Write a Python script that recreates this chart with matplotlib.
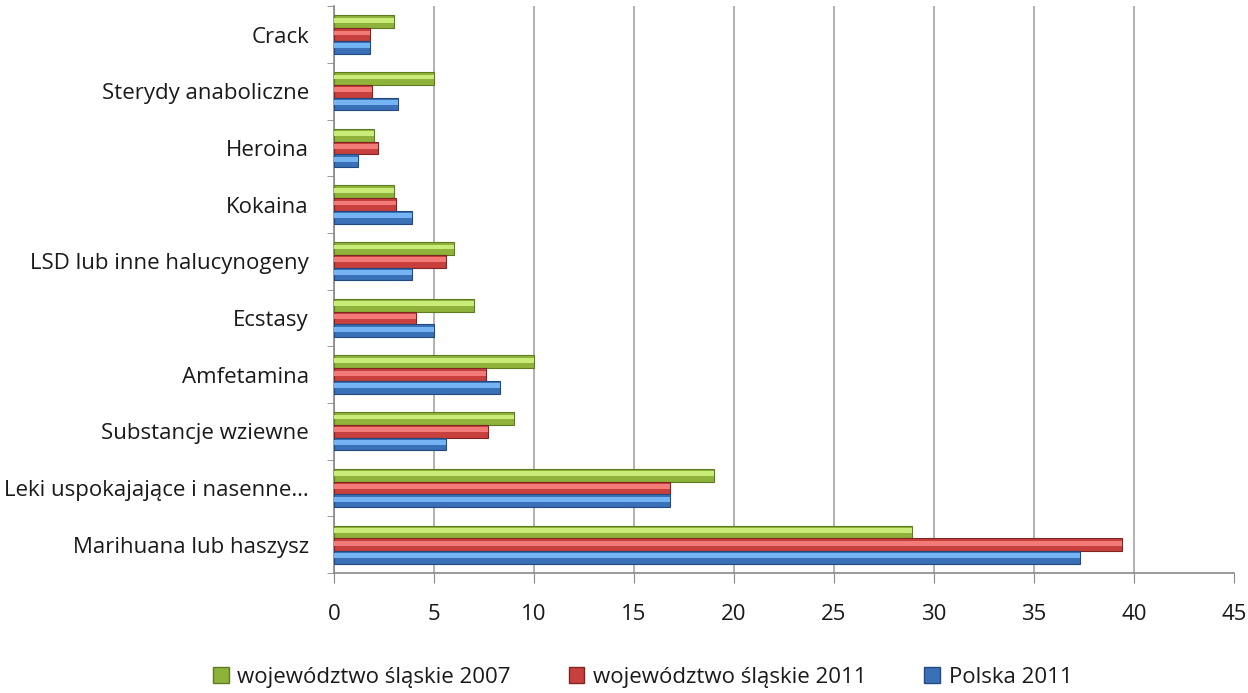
import matplotlib
matplotlib.use("Agg")
import matplotlib.pyplot as plt
import numpy as np
from matplotlib.patches import Patch

categories = ["Marihuana lub haszysz", "Leki uspokajające i nasenne…", "Substancje wziewne",
              "Amfetamina", "Ecstasy", "LSD lub inne halucynogeny", "Kokaina", "Heroina",
              "Sterydy anaboliczne", "Crack"]
slaskie_2007 = [28.9, 19.0, 9.0, 10.0, 7.0, 6.0, 3.0, 2.0, 5.0, 3.0]
slaskie_2011 = [39.4, 16.8, 7.7, 7.6, 4.1, 5.6, 3.1, 2.2, 1.9, 1.8]
polska_2011 = [37.3, 16.8, 5.6, 8.3, 5.0, 3.9, 3.9, 1.2, 3.2, 1.8]

series = [
    ("województwo śląskie 2007", slaskie_2007, "#8fb33a", "#c9ec78", "#5e7a22"),
    ("województwo śląskie 2011", slaskie_2011, "#c8403d", "#f27a78", "#7f2523"),
    ("Polska 2011", polska_2011, "#3a70b8", "#74b4f2", "#234a7f"),
]

plt.rcParams["font.family"] = ["Open Sans", "DejaVu Sans"]
fs = 16

fig = plt.figure(figsize=(12.48, 6.93), dpi=100)
ax = fig.add_axes([0.2676, 0.1732, 0.7212, 0.8178])

y = np.arange(len(categories))
h = 0.225
offsets = [h, 0.0, -h]
for (name, vals, base, light, dark), off in zip(series, offsets):
    ax.barh(y + off, vals, height=h, color=base, edgecolor=dark, linewidth=0.8, zorder=3)
    # highlight strip for the bevelled look
    ax.barh(y + off + h * 0.12, vals, height=h * 0.38, color=light, linewidth=0, zorder=4)

ax.set_xlim(0, 45)
ax.set_ylim(-0.5, len(categories) - 0.5)
ax.set_xticks(np.arange(0, 46, 5))
ax.set_yticks(y)
ax.set_yticklabels(categories)
ax.set_yticks(np.arange(-0.5, len(categories), 1.0), minor=True)

ax.tick_params(axis="y", which="major", length=0, pad=18, labelsize=fs, labelcolor="#1a1a1a")
ax.tick_params(axis="y", which="minor", length=5, color="#888888")
ax.tick_params(axis="x", length=7, color="#888888", pad=15, labelsize=fs, labelcolor="#1a1a1a")

ax.grid(axis="x", color="#a6a6a6", linewidth=1.2, zorder=0)
ax.get_xgridlines()[-1].set_visible(False)
for side in ["top", "right"]:
    ax.spines[side].set_visible(False)
for side in ["left", "bottom"]:
    ax.spines[side].set_color("#888888")
    ax.spines[side].set_linewidth(1.2)

handles = [Patch(facecolor=s[2], edgecolor=s[4], label=s[0]) for s in series]
leg = fig.legend(handles=handles, loc="lower center", bbox_to_anchor=(0.515, -0.012), ncol=3,
                 frameon=False, fontsize=fs, handlelength=0.7, handleheight=0.7,
                 handletextpad=0.4, columnspacing=2.6, borderaxespad=0.2)
for t in leg.get_texts():
    t.set_color("#1a1a1a")

fig.savefig("out.png", dpi=100)
